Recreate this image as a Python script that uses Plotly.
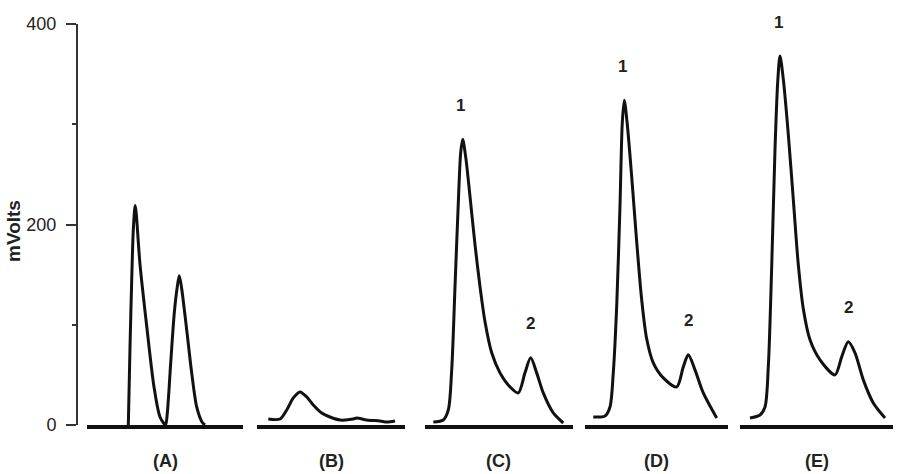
import numpy as np
import plotly.graph_objects as go

# ---------------- data ----------------
panel_names = ["(A)", "(B)", "(C)", "(D)", "(E)"]

A_time = [4.13, 4.3, 4.47, 4.63, 4.82, 5.3, 6.0, 6.7, 7.3, 7.85,
          8.03, 8.37, 8.73, 9.03, 9.23, 9.47, 9.97, 10.47, 10.97, 11.5, 11.8]
A_mv = [0, 78, 145, 195, 219, 160, 96, 38, 8, 0,
        12, 62, 112, 138, 149, 136, 95, 52, 18, 3, 0]

B_time = [1.13, 2.3, 2.97, 3.63, 4.3, 4.97, 5.63, 6.47, 7.3, 8.3, 9.63, 9.97,
          10.97, 12.3, 12.97, 13.8]
B_mv = [6, 6, 15, 27, 33, 28, 20, 12, 8, 5, 6, 7, 5, 4, 3, 4]

C_time = [0.83, 1.83, 2.33, 2.67, 3.0, 3.33, 3.57, 3.77, 4.1, 4.5, 5.0, 5.5, 6.0,
          6.67, 7.5, 8.5, 9.33, 10.0, 10.57, 11.17, 11.83, 12.83, 13.83]
C_mv = [3, 5, 15, 55, 138, 222, 272, 285, 265, 228, 180, 138, 103,
        72, 52, 38, 32, 52, 67, 52, 32, 12, 2]

D_time = [0.83, 2.0, 2.5, 2.83, 3.17, 3.5, 3.73, 3.93, 4.23, 4.67, 5.17, 5.67,
          6.17, 6.83, 7.83, 9.17, 9.83, 10.33, 11.0, 11.83, 13.17]
D_mv = [8, 9, 18, 52, 118, 218, 301, 324, 300, 248, 183, 125,
        86, 62, 47, 38, 58, 70, 55, 32, 7]

E_time = [1.0, 2.0, 2.5, 2.83, 3.17, 3.5, 3.77, 4.0, 4.33, 4.83, 5.33, 5.83,
          6.33, 7.0, 8.0, 9.5, 10.17, 10.83, 11.5, 12.33, 13.33, 14.5]
E_mv = [7, 10, 18, 58, 158, 275, 342, 368, 345, 290, 225, 160,
        116, 85, 65, 50, 68, 83, 72, 45, 22, 7]

y_ticks = [0, 200, 400]
y_title = "mVolts"
peak_split_time = 9.0        # peaks 2 elute after this time
labelled_panels = [2, 3, 4]  # C, D, E carry peak numbers

# ---------------- layout constants ----------------
W, H = 902, 474
ML, MR, MT, MB = 77, 9, 24, 49
panel_domains = [(0.0123, 0.2034), (0.2206, 0.4020), (0.4265, 0.6078),
                 (0.6225, 0.7978), (0.8125, 1.0)]
panel_ranges = [15.6, 14.8, 14.8, 14.3, 15.3]
INK = "#111111"
TXT = "#222222"
FONT = "Liberation Sans, Arial, sans-serif"
NARROW = "Liberation Sans Narrow, Arial Narrow, Liberation Sans, Arial, sans-serif"

series = [(A_time, A_mv), (B_time, B_mv), (C_time, C_mv), (D_time, D_mv), (E_time, E_mv)]

fig = go.Figure()
annotations = []
for i, (t, v) in enumerate(series):
    xa = "x" if i == 0 else f"x{i+1}"
    fig.add_trace(go.Scatter(
        x=t, y=v, mode="lines", xaxis=xa, yaxis="y",
        line=dict(color=INK, width=3, shape="spline", smoothing=0.8),
        showlegend=False, hoverinfo="skip"))
    key = "xaxis" if i == 0 else f"xaxis{i+1}"
    fig.layout[key] = dict(
        domain=list(panel_domains[i]), range=[0, panel_ranges[i]], anchor="y",
        showline=True, linewidth=4, linecolor=INK, ticks="",
        showticklabels=False, showgrid=False, zeroline=False, fixedrange=True)
    annotations.append(dict(
        text=panel_names[i], xref=f"{xa} domain", x=0.5, yref="paper", y=-0.0898,
        xanchor="center", yanchor="middle", showarrow=False,
        font=dict(family=FONT, size=18, color=TXT, weight="bold")))
    if i in labelled_panels:
        ta, va = np.array(t), np.array(v)
        i1 = int(np.argmax(va))
        late = np.where(ta > peak_split_time)[0]
        i2 = int(late[np.argmax(va[late])])
        for num, idx, dx in (("1", i1, -2), ("2", i2, 0)):
            annotations.append(dict(
                text=num, xref=xa, yref="y", x=ta[idx], y=va[idx],
                xshift=dx, yshift=34, showarrow=False,
                xanchor="center", yanchor="middle",
                font=dict(family=FONT, size=17, color=TXT, weight="bold")))

annotations.append(dict(
    text=y_title, xref="paper", yref="paper", x=(14 - ML) / (W - ML - MR),
    y=(425 - 231) / (H - MT - MB), textangle=-90, showarrow=False,
    xanchor="center", yanchor="middle",
    font=dict(family=FONT, size=19, color=TXT, weight="bold")))

fig.update_layout(
    width=W, height=H, margin=dict(l=ML, r=MR, t=MT, b=MB),
    paper_bgcolor="white", plot_bgcolor="white",
    yaxis=dict(domain=[0, 1], range=[0, 400], anchor="free", position=0,
               showline=True, linewidth=2, linecolor="#333333",
               ticks="outside", ticklen=10, tickwidth=2, tickcolor="#333333",
               tickvals=y_ticks, ticklabelstandoff=6,
               tickfont=dict(family=NARROW, size=18, color=TXT),
               minor=dict(dtick=100, ticks="outside", ticklen=4, tickcolor="#333333", tickwidth=2),
               showgrid=False, zeroline=False, fixedrange=True),
    annotations=annotations,
)

fig.write_html("out.html")
